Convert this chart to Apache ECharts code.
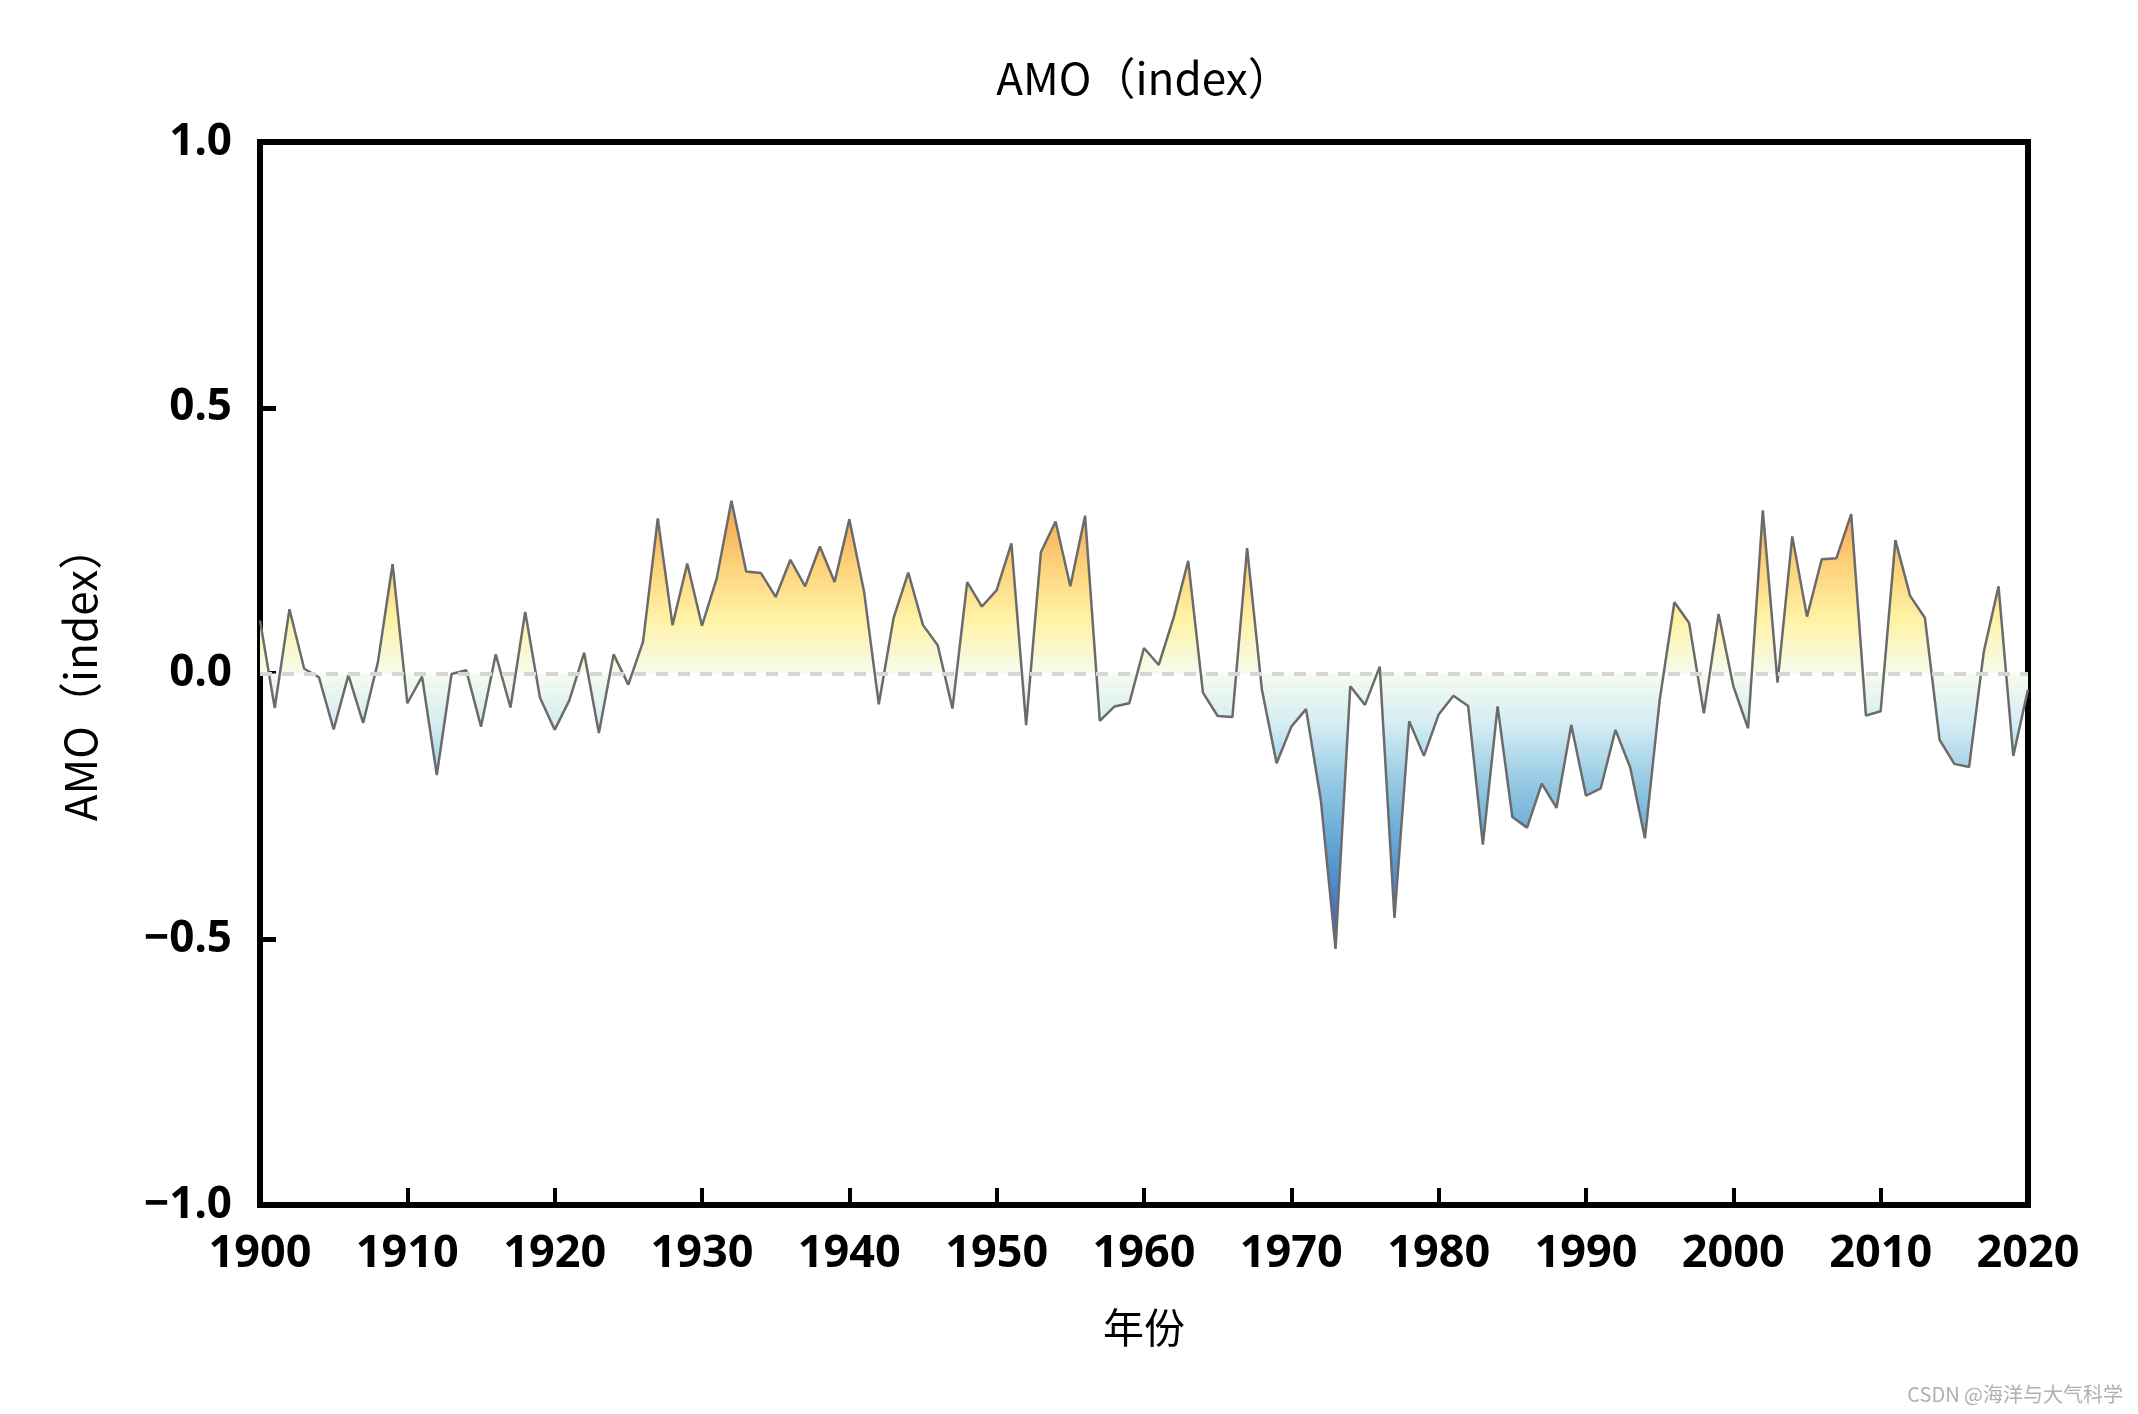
<!DOCTYPE html>
<html>
<head>
<meta charset="utf-8">
<script src="https://cdn.jsdelivr.net/npm/echarts@6/dist/echarts.min.js"></script>
<style>
html,body{margin:0;padding:0;background:#fff;}
#chart{width:2138px;height:1414px;}
</style>
</head>
<body>
<div id="chart"></div>
<script>
// ---- data ----
const years = [];
for (let y = 1900; y <= 2020; y++) years.push(y);
const amoValues = [
  0.100, -0.065, 0.121, 0.009, -0.007, -0.105, -0.003, -0.093, 0.021, 0.206,
  -0.056, -0.006, -0.191, -0.001, 0.006, -0.100, 0.036, -0.064, 0.116, -0.045,
  -0.106, -0.050, 0.039, -0.112, 0.036, -0.021, 0.060, 0.292, 0.091, 0.207,
  0.090, 0.179, 0.325, 0.192, 0.189, 0.144, 0.214, 0.164, 0.239, 0.172,
  0.290, 0.154, -0.058, 0.104, 0.190, 0.091, 0.053, -0.066, 0.172, 0.126,
  0.157, 0.245, -0.097, 0.228, 0.286, 0.164, 0.297, -0.089, -0.062, -0.056,
  0.048, 0.016, 0.104, 0.212, -0.036, -0.080, -0.082, 0.236, -0.030, -0.169,
  -0.100, -0.067, -0.238, -0.518, -0.024, -0.059, 0.013, -0.460, -0.090, -0.155,
  -0.077, -0.042, -0.061, -0.322, -0.062, -0.270, -0.290, -0.207, -0.253, -0.097,
  -0.230, -0.216, -0.106, -0.177, -0.310, -0.050, 0.134, 0.095, -0.075, 0.112,
  -0.024, -0.103, 0.307, -0.017, 0.258, 0.107, 0.215, 0.217, 0.300, -0.079,
  -0.071, 0.251, 0.146, 0.105, -0.125, -0.170, -0.176, 0.041, 0.164, -0.155,
  -0.030
];
const xTicks = [1900, 1910, 1920, 1930, 1940, 1950, 1960, 1970, 1980, 1990, 2000, 2010, 2020];
const yTicks = [-1.0, -0.5, 0.0, 0.5, 1.0];
const fillColors = ['#2b44a3','#3760b6','#4e88c9','#6badd8','#98cbe4','#d2ecf4','#f6fbee',
                    '#fff3a6','#fdd37c','#f9a954','#f58a46','#ee6a3b','#d8452f'];
const titleText = 'AMO（index）';
const xName = '年份';
const yName = 'AMO（index）';
const watermark = 'CSDN @海洋与大气科学';

const seriesData = years.map((y, i) => [y, amoValues[i]]);

const chart = echarts.init(document.getElementById('chart'), null, {renderer: 'canvas'});
const cjk = '"Noto Sans CJK SC", "Noto Sans", sans-serif';
const tickFont = '"Noto Sans", "Noto Sans CJK SC", sans-serif';

chart.setOption({
  backgroundColor: '#fff',
  animation: false,
  grid: {
    left: 260, right: 110, top: 142, bottom: 209,
    show: true, borderColor: '#000', borderWidth: 6, backgroundColor: 'transparent'
  },
  visualMap: {
    show: false,
    type: 'continuous',
    seriesIndex: 0,
    dimension: 1,
    min: -0.6,
    max: 0.6,
    inRange: {color: fillColors}
  },
  xAxis: {
    type: 'value',
    min: 1900, max: 2020, interval: 10,
    name: xName,
    nameLocation: 'middle',
    nameGap: 102,
    nameTextStyle: {fontFamily: cjk, fontSize: 41, color: '#000'},
    axisLine: {show: true, onZero: false, lineStyle: {color: '#000', width: 6}},
    axisTick: {show: true, inside: true, length: 17, lineStyle: {color: '#000', width: 4}},
    axisLabel: {
      margin: 27, fontFamily: tickFont, fontSize: 45, fontWeight: 'bold', color: '#000',
      formatter: v => (xTicks.indexOf(v) >= 0 ? String(v) : '')
    },
    splitLine: {show: false}
  },
  yAxis: {
    type: 'value',
    min: -1, max: 1, interval: 0.5,
    name: yName,
    nameLocation: 'middle',
    nameGap: 158,
    nameRotate: 90,
    nameTextStyle: {fontFamily: cjk, fontSize: 44, color: '#000'},
    axisLine: {show: true, onZero: false, lineStyle: {color: '#000', width: 6}},
    axisTick: {show: true, inside: true, length: 16, lineStyle: {color: '#000', width: 5}},
    axisLabel: {
      margin: 28, fontFamily: tickFont, fontSize: 44, fontWeight: 'bold', color: '#000',
      formatter: v => {
        const t = yTicks.find(k => Math.abs(k - v) < 1e-9);
        if (t === undefined) return '';
        return (t < 0 ? '\u2212' : '') + Math.abs(t).toFixed(1);
      }
    },
    splitLine: {show: false}
  },
  series: [{
    type: 'line',
    data: seriesData,
    showSymbol: false,
    symbol: 'none',
    lineStyle: {color: '#6b6b6b', width: 2.5},
    areaStyle: {opacity: 1, origin: 0},
    z: 3,
    markLine: {
      silent: true,
      symbol: 'none',
      label: {show: false},
      lineStyle: {color: '#d6d6d6', width: 4, type: [12, 10]},
      data: [{yAxis: 0}],
      z: 4
    }
  }],
  graphic: [{
    type: 'text',
    x: 1144,
    y: 78,
    style: {text: titleText, fontFamily: cjk, fontSize: 44, fill: '#000',
            textAlign: 'center', textVerticalAlign: 'middle'}
  }, {
    type: 'text',
    right: 15,
    top: 1384,
    style: {text: watermark, fontFamily: cjk, fontSize: 20, fill: '#b0b0b0'}
  }]
});
</script>
</body>
</html>
